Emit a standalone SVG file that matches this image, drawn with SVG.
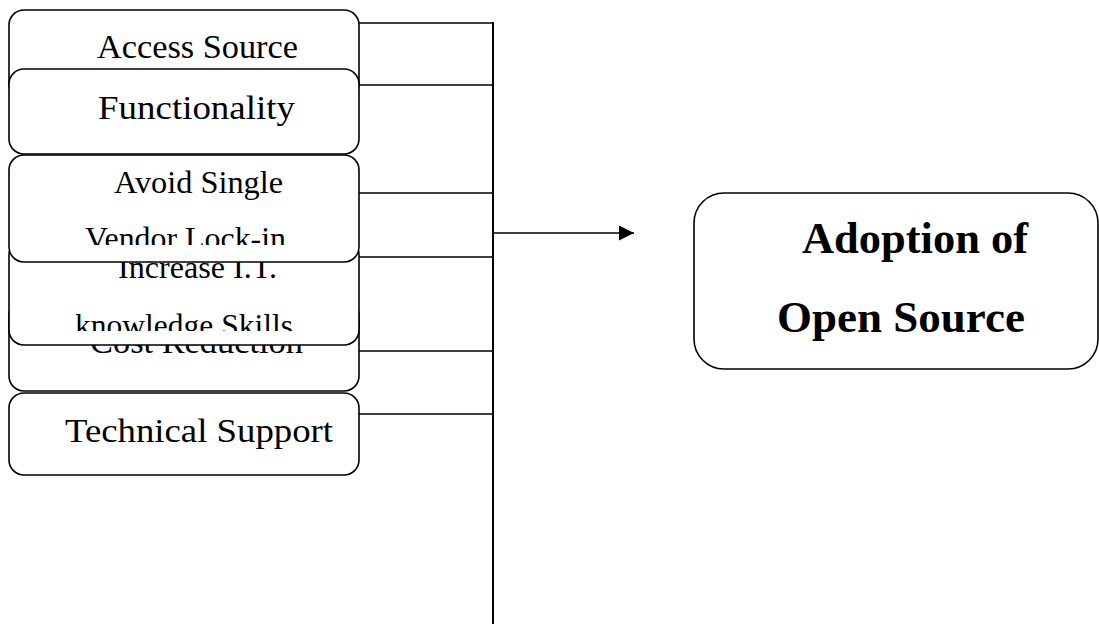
<svg xmlns="http://www.w3.org/2000/svg" width="1099" height="626" viewBox="0 0 1099 626">
<style>
.box{fill:#fff;stroke:#000;stroke-width:1.6}
.t{font-family:"Liberation Serif","Times New Roman",serif;fill:#000}
.b{font-weight:bold}
.ln{stroke:#000;stroke-width:1.6;fill:none}
</style>
<defs>
<marker id="ah" markerWidth="15" markerHeight="15" refX="15" refY="7.5" orient="auto" markerUnits="userSpaceOnUse">
<path d="M0,0 L15,7.5 L0,15 Z" fill="#000"/>
</marker>
<clipPath id="cAvoid"><rect x="9" y="155" width="350" height="90"/></clipPath>
<clipPath id="cInc"><rect x="9" y="240" width="350" height="91"/></clipPath>
</defs>
<g id="connectors">
<line class="ln" x1="359" y1="23" x2="493" y2="23"/>
<line class="ln" x1="359" y1="85" x2="493" y2="85"/>
<line class="ln" x1="359" y1="193" x2="493" y2="193"/>
<line class="ln" x1="359" y1="257" x2="493" y2="257"/>
<line class="ln" x1="359" y1="351" x2="493" y2="351"/>
<line class="ln" x1="359" y1="414" x2="493" y2="414"/>
<line class="ln" x1="493" y1="22" x2="493" y2="624" style="stroke-width:2"/>
<line class="ln" x1="493" y1="233" x2="634" y2="233" marker-end="url(#ah)"/>
</g>
<g id="access-source">
<rect class="box" x="9" y="10" width="350" height="90" rx="15"/>
<text class="t" x="97" y="58" font-size="33" textLength="201" lengthAdjust="spacingAndGlyphs">Access Source</text>
</g>
<g id="functionality">
<rect class="box" x="9" y="69" width="350" height="85" rx="15"/>
<text class="t" x="98" y="119" font-size="33" textLength="197" lengthAdjust="spacingAndGlyphs">Functionality</text>
</g>
<g id="cost-reduction">
<rect class="box" x="9" y="300" width="350" height="91" rx="15"/>
<text class="t" x="90" y="353" font-size="33" textLength="213" lengthAdjust="spacingAndGlyphs">Cost Reduction</text>
</g>
<g id="increase-it">
<rect class="box" x="9" y="240" width="350" height="105" rx="15"/>
<g clip-path="url(#cInc)">
<text class="t" x="118" y="278" font-size="31.5" textLength="159" lengthAdjust="spacingAndGlyphs">Increase I.T.</text>
<text class="t" x="75" y="336" font-size="31.5" textLength="218" lengthAdjust="spacingAndGlyphs">knowledge Skills</text>
</g>
</g>
<g id="avoid-lock-in">
<rect class="box" x="9" y="155" width="350" height="107" rx="15"/>
<g clip-path="url(#cAvoid)">
<text class="t" x="114" y="193" font-size="31.5" textLength="169" lengthAdjust="spacingAndGlyphs">Avoid Single</text>
<text class="t" x="85" y="249" font-size="31.5" textLength="201" lengthAdjust="spacingAndGlyphs">Vendor Lock-in</text>
</g>
</g>
<g id="technical-support">
<rect class="box" x="9" y="393" width="350" height="82" rx="15"/>
<text class="t" x="65" y="442" font-size="33" textLength="268" lengthAdjust="spacingAndGlyphs">Technical Support</text>
</g>
<g id="adoption">
<rect class="box" x="694" y="193" width="404" height="176" rx="30"/>
<text class="t b" x="802" y="253" font-size="44" textLength="226" lengthAdjust="spacingAndGlyphs">Adoption of</text>
<text class="t b" x="777" y="332" font-size="44" textLength="248" lengthAdjust="spacingAndGlyphs">Open Source</text>
</g>
</svg>
